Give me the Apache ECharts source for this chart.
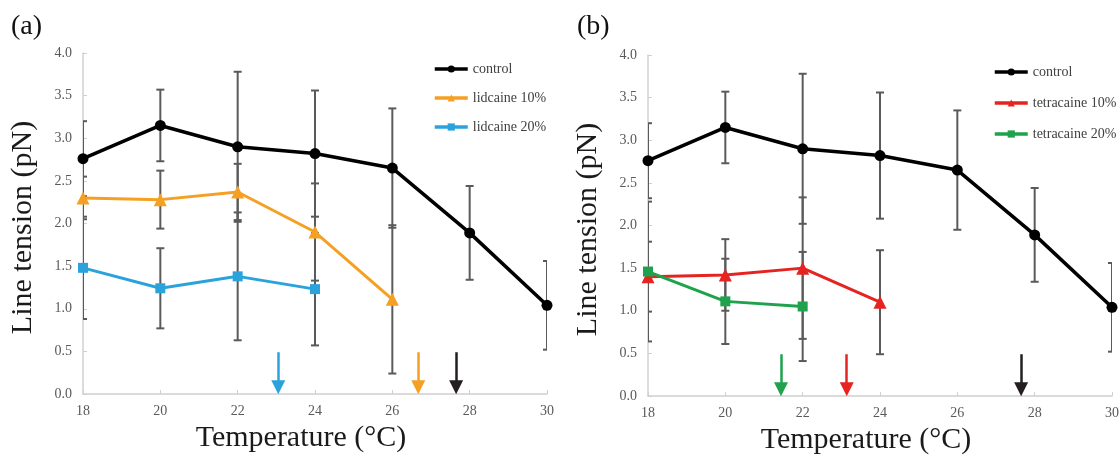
<!DOCTYPE html>
<html><head><meta charset="utf-8">
<script src="https://cdn.jsdelivr.net/npm/echarts@6/dist/echarts.min.js"></script>
<style>html,body{margin:0;padding:0;background:#fff}#c{width:1119px;height:456px}</style>
</head><body><div id="c"></div>
<script>
// ---------- data ----------
const temps = [18, 20, 22, 24, 26, 28, 30];
const control    = [2.76, 3.15, 2.90, 2.82, 2.65, 1.89, 1.04];
const controlErr = [0.44, 0.42, 0.88, 0.74, 0.70, 0.55, 0.52];
const lid10      = [2.30, 2.28, 2.37, 1.90, 1.11];
const lid10Err   = [0.25, 0.34, 0.33, 0.57, 0.87];
const lid20      = [1.48, 1.24, 1.38, 1.23];
const lid20Err   = [0.60, 0.47, 0.75, 0.66];
const tet10      = [1.40, 1.42, 1.50, 1.10];
const tet10Err   = [0.41, 0.42, 0.83, 0.61];
const tet20      = [1.46, 1.11, 1.05];
const tet20Err   = [0.82, 0.50, 0.64];
// transition-temperature arrows (x in °C), drawn from arrowTop down to the axis
const arrowControl = 27.65;
const arrowLid10 = 26.67;
const arrowLid20 = 23.05;
const arrowTet10 = 23.14;
const arrowTet20 = 21.44;
const arrowTop = 0.49;
const arrowTip = 0.08;
const names = {
  control: 'control', lid10: 'lidcaine 10%', lid20: 'lidcaine 20%',
  tet10: 'tetracaine 10%', tet20: 'tetracaine 20%'
};
const panelLabels = ['(a)', '(b)'];
const xTitle = 'Temperature (°C)';
const yTitle = 'Line tension (pN)';

// ---------- styles ----------
const SERIF = 'Liberation Serif';
const C = {
  control: '#000000', lid10: '#F5A023', lid20: '#2AA3DC',
  tet10: '#E52421', tet20: '#1FA24C', err: '#5a5a5a'
};
const arrowColorControl = '#231f20';

function pts(vals) { return vals.map((v, i) => [temps[i], v]); }

function lineSeries(name, vals, gi, color, symbol, size, width, arrowX, arrowColor) {
  return {
    type: 'line', name, xAxisIndex: gi, yAxisIndex: gi, data: pts(vals),
    symbol, symbolSize: size, showSymbol: true, z: 5, animation: false,
    itemStyle: { color }, lineStyle: { color, width },
    markLine: {
      silent: true, animation: false, symbol: ['none', 'triangle'], symbolSize: 14,
      lineStyle: { color: arrowColor || color, width: 2.5, type: 'solid' },
      label: { show: false },
      data: [[{ coord: [arrowX, arrowTop] }, { coord: [arrowX, arrowTip] }]]
    }
  };
}

function errSeries(vals, errs, gi) {
  return {
    type: 'custom', xAxisIndex: gi, yAxisIndex: gi, z: 2, silent: true, clip: true,
    animation: false,
    data: vals.map((v, i) => [temps[i], v - errs[i], v + errs[i]]),
    renderItem(params, api) {
      const x = api.value(0);
      const lo = api.coord([x, api.value(1)]);
      const hi = api.coord([x, api.value(2)]);
      const w = 4;
      const st = { stroke: C.err, lineWidth: 2 };
      return {
        type: 'group', children: [
          { type: 'line', shape: { x1: lo[0], y1: lo[1], x2: hi[0], y2: hi[1] }, style: st },
          { type: 'line', shape: { x1: lo[0] - w, y1: lo[1], x2: lo[0] + w, y2: lo[1] }, style: st },
          { type: 'line', shape: { x1: hi[0] - w, y1: hi[1], x2: hi[0] + w, y2: hi[1] }, style: st }
        ]
      };
    }
  };
}

function xAx(gi) {
  return {
    type: 'value', gridIndex: gi, min: 18, max: 30, interval: 2,
    axisLine: { show: true, lineStyle: { color: '#d0d0d0', width: 1.5 } },
    axisTick: { show: true, inside: true, length: 4, lineStyle: { color: '#d0d0d0' } },
    splitLine: { show: false },
    axisLabel: { color: '#595959', fontFamily: SERIF, fontSize: 14, margin: 10 },
    name: xTitle, nameLocation: 'middle', nameGap: 28,
    nameTextStyle: { fontFamily: SERIF, fontSize: 30, color: '#1a1a1a', padding: [0, 28, 0, 0] }
  };
}
function yAx(gi) {
  return {
    type: 'value', gridIndex: gi, min: 0, max: 4, interval: 0.5,
    axisLine: { show: true, lineStyle: { color: '#d0d0d0', width: 1.5 } },
    axisTick: { show: true, inside: true, length: 4, lineStyle: { color: '#d0d0d0' } },
    splitLine: { show: false },
    axisLabel: { color: '#595959', fontFamily: SERIF, fontSize: 14, margin: 11,
      formatter: v => v.toFixed(1) },
    name: yTitle, nameLocation: 'middle', nameGap: 45,
    nameTextStyle: { fontFamily: SERIF, fontSize: 30, color: '#1a1a1a', padding: [0, 8, 0, 0] }
  };
}

function legendCfg(left, top, gap, data) {
  return {
    orient: 'vertical', left, top, padding: 0, itemWidth: 33, itemHeight: 9, itemGap: gap,
    data, lineStyle: { width: 3.5 },
    textStyle: { fontFamily: SERIF, fontSize: 14, color: '#404040' }
  };
}

const chart = echarts.init(document.getElementById('c'), null, { renderer: 'canvas' });
chart.setOption({
  backgroundColor: '#ffffff',
  animation: false,
  title: [
    { text: panelLabels[0], left: 6, top: 8, textStyle: { fontFamily: SERIF, fontSize: 28, fontWeight: 'normal', color: '#111' } },
    { text: panelLabels[1], left: 572, top: 8, textStyle: { fontFamily: SERIF, fontSize: 28, fontWeight: 'normal', color: '#111' } }
  ],
  grid: [
    { left: 83, right: 572, top: 53, bottom: 62, containLabel: false, outerBoundsMode: 'none' },
    { left: 648, right: 7, top: 55, bottom: 60, containLabel: false, outerBoundsMode: 'none' }
  ],
  xAxis: [xAx(0), xAx(1)],
  yAxis: [yAx(0), yAx(1)],
  legend: [
    legendCfg(433, 62, 15, [names.control, names.lid10, names.lid20]),
    legendCfg(993, 65, 17, [names.control, names.tet10, names.tet20])
  ],
  series: [
    errSeries(control, controlErr, 0),
    errSeries(lid10, lid10Err, 0),
    errSeries(lid20, lid20Err, 0),
    lineSeries(names.control, control, 0, C.control, 'circle', 11, 3.5, arrowControl, arrowColorControl),
    lineSeries(names.lid10, lid10, 0, C.lid10, 'triangle', 13, 3, arrowLid10),
    lineSeries(names.lid20, lid20, 0, C.lid20, 'rect', 10, 3, arrowLid20),
    errSeries(control, controlErr, 1),
    errSeries(tet10, tet10Err, 1),
    errSeries(tet20, tet20Err, 1),
    lineSeries(names.control, control, 1, C.control, 'circle', 11, 3.5, arrowControl, arrowColorControl),
    lineSeries(names.tet10, tet10, 1, C.tet10, 'triangle', 13, 3, arrowTet10),
    lineSeries(names.tet20, tet20, 1, C.tet20, 'rect', 10, 3, arrowTet20)
  ]
});
</script></body></html>
